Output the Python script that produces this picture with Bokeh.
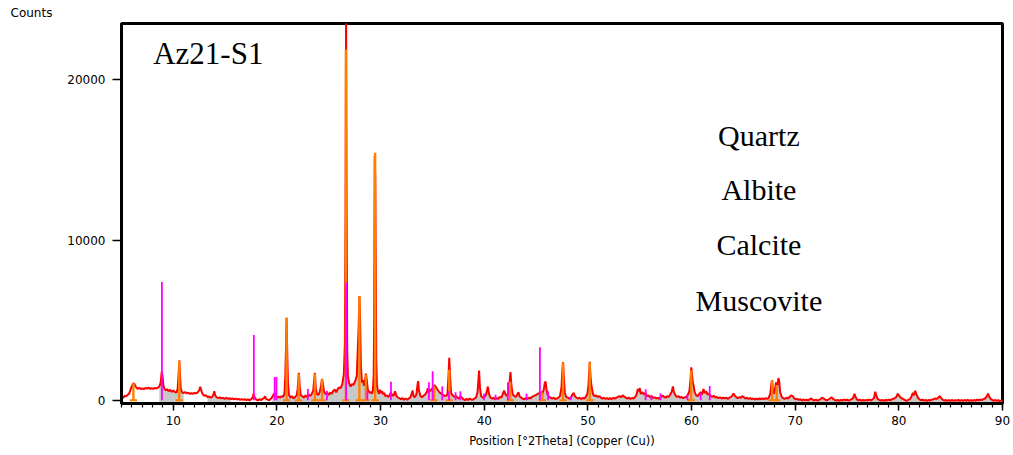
from bokeh.plotting import figure
from bokeh.models import Range1d, FixedTicker, Title
from bokeh.core.properties import value
from bokeh.embed import file_html
from bokeh.resources import INLINE
import numpy as np

# ---------------- data ----------------
# observed pattern: (2Theta, counts)
obs_05_20 = [
    (5.00, 180), (5.15, 150), (5.30, 260), (5.45, 240), (5.60, 330), (5.75, 420), (5.90, 700),
    (6.05, 950), (6.15, 1050), (6.25, 1000), (6.40, 820), (6.55, 700), (6.70, 760), (6.85, 700),
    (7.00, 730), (7.15, 690), (7.30, 760), (7.45, 720), (7.60, 780), (7.75, 700), (7.90, 740),
    (8.05, 700), (8.20, 760), (8.35, 720), (8.50, 780), (8.65, 850), (8.78, 1100), (8.88, 1780),
    (8.96, 1500), (9.05, 900), (9.15, 700), (9.30, 620), (9.40, 680), (9.55, 560), (9.70, 640),
    (9.85, 520), (10.00, 600), (10.15, 500), (10.30, 480), (10.42, 700), (10.50, 1500),
    (10.57, 2480), (10.64, 1600), (10.72, 700), (10.85, 480), (11.00, 450), (11.15, 500),
    (11.30, 420), (11.45, 460), (11.60, 390), (11.75, 430), (11.90, 400), (12.05, 450),
    (12.20, 420), (12.35, 480), (12.50, 620), (12.60, 830), (12.70, 600), (12.85, 350),
    (13.00, 280), (13.15, 300), (13.30, 200), (13.45, 230), (13.60, 150), (13.75, 200),
    (13.88, 380), (13.95, 550), (14.05, 280), (14.20, 170), (14.35, 130), (14.50, 170),
    (14.65, 110), (14.80, 140), (14.95, 80), (15.10, 140), (15.25, 90), (15.40, 120),
    (15.55, 60), (15.70, 110), (15.85, 50), (16.00, 100), (16.15, 40), (16.30, 80),
    (16.45, 20), (16.60, 70), (16.75, 10), (16.90, 60), (17.05, 0), (17.20, 50), (17.35, -20),
    (17.50, 60), (17.65, 150), (17.75, 420), (17.85, 150), (18.00, 30), (18.15, -20),
    (18.30, 60), (18.45, 0), (18.60, 80), (18.75, 120), (18.85, 240), (18.95, 80),
    (19.10, 30), (19.25, -10), (19.40, 80), (19.55, 200), (19.70, 380), (19.80, 460),
    (19.90, 300), (20.00, 150), (20.15, 220), (20.30, 160), (20.45, 250),
]
obs_20_36 = [
    (20.60, 200), (20.72, 400), (20.80, 1400), (20.87, 3200), (20.93, 5150), (20.99, 3000),
    (21.06, 1100), (21.15, 350), (21.30, 150), (21.45, 250), (21.60, 100), (21.75, 200),
    (21.90, 300), (22.00, 700), (22.05, 1200), (22.12, 1700), (22.20, 800), (22.30, 300),
    (22.45, 250), (22.60, 150), (22.75, 300), (22.90, 200), (23.05, 350), (23.20, 250),
    (23.35, 380), (23.50, 600), (23.58, 1200), (23.66, 1700), (23.74, 800), (23.85, 380),
    (24.00, 330), (24.12, 500), (24.25, 900), (24.35, 1320), (24.45, 950), (24.55, 500),
    (24.70, 380), (24.85, 450), (25.00, 330), (25.15, 480), (25.30, 400), (25.45, 600),
    (25.60, 650), (25.72, 480), (25.85, 680), (26.00, 800), (26.15, 750), (26.30, 1000),
    (26.45, 1600), (26.55, 3500), (26.62, 12000), (26.67, 24500), (26.72, 12000),
    (26.78, 3000), (26.85, 1500), (26.95, 1100), (27.10, 850), (27.25, 1000), (27.40, 950),
    (27.55, 1200), (27.70, 1500), (27.80, 3200), (27.88, 4500), (27.95, 6500), (28.02, 5000),
    (28.10, 2100), (28.20, 1100), (28.30, 1250), (28.40, 900), (28.50, 1200), (28.58, 1650),
    (28.66, 1300), (28.75, 700), (28.85, 550), (28.95, 450), (29.05, 520), (29.15, 400),
    (29.25, 600), (29.33, 1500), (29.38, 5000), (29.43, 15250), (29.48, 14000),
    (29.53, 8800), (29.58, 2500), (29.65, 900), (29.75, 550), (29.85, 400), (29.95, 650),
    (30.05, 450), (30.15, 550), (30.25, 380), (30.35, 450), (30.45, 250), (30.60, 300),
    (30.75, 200), (30.90, 350), (31.00, 500), (31.10, 300), (31.25, 280), (31.40, 550),
    (31.50, 300), (31.65, 180), (31.80, 120), (31.95, 60), (32.10, 120), (32.25, 30),
    (32.40, 100), (32.55, 20), (32.70, 100), (32.85, 150), (33.00, 400), (33.08, 600),
    (33.18, 250), (33.30, 180), (33.45, 350), (33.55, 900), (33.62, 1190), (33.70, 600),
    (33.85, 250), (34.00, 180), (34.15, 280), (34.30, 350), (34.45, 500), (34.55, 750),
    (34.65, 500), (34.80, 600), (34.95, 700), (35.10, 850), (35.20, 950), (35.30, 850),
    (35.45, 700), (35.60, 550), (35.75, 450), (35.90, 380),
]
obs_36_51 = [
    (36.05, 330), (36.20, 250), (36.35, 280), (36.45, 400), (36.55, 1500), (36.62, 2650),
    (36.70, 1500), (36.80, 450), (36.95, 300), (37.10, 200), (37.25, 280), (37.40, 150),
    (37.55, 100), (37.70, 250), (37.85, 150), (38.00, 50), (38.15, 0), (38.30, 80),
    (38.45, 10), (38.60, 100), (38.75, 40), (38.90, 30), (39.05, 100), (39.20, 150),
    (39.35, 500), (39.43, 1200), (39.50, 1850), (39.58, 800), (39.70, 250), (39.85, 150),
    (40.00, 200), (40.15, 300), (40.28, 650), (40.35, 850), (40.45, 400), (40.60, 150),
    (40.75, 100), (40.90, 150), (41.05, 60), (41.20, 120), (41.35, 80), (41.50, 200),
    (41.65, 150), (41.80, 400), (41.92, 600), (42.05, 350), (42.20, 250), (42.35, 600),
    (42.45, 1200), (42.53, 1750), (42.62, 900), (42.75, 350), (42.90, 250), (43.05, 200),
    (43.20, 380), (43.30, 500), (43.40, 250), (43.55, 150), (43.70, 100), (43.85, 50),
    (44.00, 130), (44.15, 70), (44.30, 150), (44.45, 100), (44.60, 200), (44.75, 250),
    (44.90, 300), (45.05, 350), (45.20, 400), (45.35, 450), (45.50, 500), (45.62, 400),
    (45.75, 700), (45.85, 1100), (45.92, 1150), (46.00, 700), (46.10, 350), (46.25, 200),
    (46.40, 150), (46.55, 100), (46.70, 150), (46.85, 70), (47.00, 100), (47.15, 150),
    (47.30, 250), (47.45, 800), (47.53, 1800), (47.60, 2380), (47.68, 1400), (47.78, 450),
    (47.90, 200), (48.05, 150), (48.20, 100), (48.35, 150), (48.50, 350), (48.62, 450),
    (48.75, 250), (48.90, 150), (49.05, 100), (49.20, 150), (49.35, 70), (49.50, 130),
    (49.65, 100), (49.80, 200), (49.95, 400), (50.05, 900), (50.12, 1700), (50.18, 2400),
    (50.25, 1500), (50.32, 1000), (50.40, 700), (50.50, 350), (50.65, 250), (50.80, 300),
    (50.95, 200), (51.10, 250), (51.25, 150),
]
obs_51_69 = [
    (51.40, 100), (51.55, 150), (51.70, 80), (51.85, 130), (52.00, 60), (52.15, 120),
    (52.30, 70), (52.45, 150), (52.60, 90), (52.75, 160), (52.90, 200), (53.05, 250),
    (53.20, 180), (53.35, 300), (53.50, 220), (53.65, 150), (53.80, 100), (53.95, 160),
    (54.10, 80), (54.25, 130), (54.40, 100), (54.55, 200), (54.70, 350), (54.82, 700),
    (54.90, 550), (55.00, 750), (55.10, 400), (55.25, 500), (55.40, 350), (55.55, 450),
    (55.70, 250), (55.85, 300), (56.00, 180), (56.15, 250), (56.30, 120), (56.45, 180),
    (56.60, 100), (56.75, 150), (56.90, 80), (57.05, 200), (57.20, 300), (57.35, 200),
    (57.50, 150), (57.65, 250), (57.80, 200), (57.95, 350), (58.10, 550), (58.20, 850),
    (58.30, 500), (58.45, 300), (58.60, 200), (58.75, 250), (58.90, 150), (59.05, 200),
    (59.20, 120), (59.35, 180), (59.50, 200), (59.65, 350), (59.80, 600), (59.90, 1300),
    (59.97, 2050), (60.05, 1600), (60.12, 1100), (60.20, 900), (60.30, 500), (60.45, 300),
    (60.60, 250), (60.75, 400), (60.90, 500), (61.00, 350), (61.15, 700), (61.25, 450),
    (61.40, 550), (61.55, 350), (61.70, 400), (61.85, 250), (62.00, 200), (62.15, 280),
    (62.30, 150), (62.45, 200), (62.60, 120), (62.75, 180), (62.90, 100), (63.05, 160),
    (63.20, 120), (63.35, 150), (63.50, 80), (63.65, 150), (63.80, 200), (63.95, 300),
    (64.05, 420), (64.15, 300), (64.30, 200), (64.45, 120), (64.60, 180), (64.75, 150),
    (64.90, 250), (65.05, 180), (65.20, 100), (65.35, 150), (65.50, 70), (65.65, 130),
    (65.80, 60), (65.95, 100), (66.10, 40), (66.25, 90), (66.40, 50), (66.55, 110),
    (66.70, 60), (66.85, 100), (67.00, 70), (67.15, 120), (67.30, 80), (67.45, 150),
    (67.60, 400), (67.70, 1000), (67.77, 1250), (67.85, 600), (67.95, 400), (68.05, 700),
    (68.15, 1100), (68.22, 900), (68.30, 1000), (68.38, 1380), (68.45, 1200), (68.55, 500),
    (68.70, 200), (68.85, 120), (69.00, 80),
]
obs_69_90 = [
    (69.15, 150), (69.30, 100), (69.45, 200), (69.60, 300), (69.75, 250), (69.90, 120),
    (70.05, 50), (70.20, 80), (70.35, 10), (70.50, 60), (70.65, -20), (70.80, 40),
    (70.95, -10), (71.10, 30), (71.25, -30), (71.40, 60), (71.55, 100), (71.70, 20),
    (71.85, -20), (72.00, 30), (72.15, -30), (72.30, 20), (72.45, 70), (72.60, 150),
    (72.75, 100), (72.90, 30), (73.05, -20), (73.20, 40), (73.35, 100), (73.50, 180),
    (73.65, 80), (73.80, 20), (73.95, -30), (74.10, 20), (74.25, -40), (74.40, 10),
    (74.55, -20), (74.70, 40), (74.85, -10), (75.00, 30), (75.15, -30), (75.30, 20),
    (75.45, 60), (75.60, 150), (75.72, 400), (75.82, 200), (75.95, 50), (76.10, -20),
    (76.25, 30), (76.40, -40), (76.55, 10), (76.70, -30), (76.85, 20), (77.00, -20),
    (77.15, 30), (77.30, -10), (77.45, 50), (77.60, 120), (77.72, 520), (77.82, 300),
    (77.95, 80), (78.10, 20), (78.25, -30), (78.40, 10), (78.55, -40), (78.70, 20),
    (78.85, -20), (79.00, 30), (79.15, -10), (79.30, 40), (79.45, 80), (79.60, 120),
    (79.75, 200), (79.90, 400), (80.00, 300), (80.15, 180), (80.30, 100), (80.45, 60),
    (80.60, 0), (80.75, -40), (80.90, 20), (81.05, 50), (81.20, 200), (81.35, 450),
    (81.45, 300), (81.58, 580), (81.70, 350), (81.85, 150), (82.00, 40), (82.15, -20),
    (82.30, 30), (82.45, -30), (82.60, 20), (82.75, -40), (82.90, 10), (83.05, -20),
    (83.20, 30), (83.35, 60), (83.50, 100), (83.65, 80), (83.80, 150), (83.95, 260),
    (84.10, 100), (84.25, 20), (84.40, -30), (84.55, 10), (84.70, -50), (84.85, 0),
    (85.00, -40), (85.15, 10), (85.30, -50), (85.45, 0), (85.60, -30), (85.75, 20),
    (85.90, -40), (86.05, 0), (86.20, -50), (86.35, 10), (86.50, -30), (86.65, 20),
    (86.80, -40), (86.95, 0), (87.10, -50), (87.25, 10), (87.40, -30), (87.55, 30),
    (87.70, -20), (87.85, 40), (88.00, 0), (88.15, 60), (88.30, 100), (88.45, 200),
    (88.60, 400), (88.70, 250), (88.85, 80), (89.00, 20), (89.15, -40), (89.30, 10),
    (89.45, -50), (89.60, 0), (89.75, -60), (89.90, -20), (90.00, -40),
]

# ranges of 2Theta where the grey profile shows under the pattern
grey_ranges = [(8.6, 11.0), (13.3, 15.6), (19.5, 90.0)]

# orange reference sticks (2Theta, counts)
orange_pos = [6.15, 10.57, 20.93, 22.10, 23.66, 24.35, 26.65, 27.95, 28.58, 29.47,
              35.15, 36.62, 42.50, 45.60, 47.60, 50.18, 59.97, 67.77, 68.22]
orange_h = [1050, 2450, 5150, 1650, 1650, 1300, 21900, 6500, 1600, 15450,
            900, 1900, 1150, 500, 2350, 2350, 1850, 1250, 950]

# magenta reference sticks (2Theta, counts)
magenta_pos = [8.90, 17.77, 19.78, 19.95, 22.98, 24.82, 26.67, 28.72, 31.00, 34.66,
               35.02, 35.95, 36.59, 37.23, 37.70, 39.97, 41.09, 42.28, 44.08, 45.37,
               46.17, 48.35, 55.57, 56.12, 57.00, 59.60, 60.88, 61.75]
magenta_h = [7380, 4060, 1450, 1450, 700, 580, 7350, 600, 1150, 1120,
             1810, 870, 550, 500, 560, 420, 330, 1120, 400, 3310,
             560, 250, 680, 300, 430, 340, 460, 880]

x_ticks = [10, 20, 30, 40, 50, 60, 70, 80, 90]
y_ticks = [0, 10000, 20000]
phase_names = ["Quartz", "Albite", "Calcite", "Muscovite"]
sample_name = "Az21-S1"

# ---------------- figure ----------------
X_MIN, X_MAX = 5, 90
Y_MIN, Y_MAX = -210, 23520

p = figure(output_backend="svg", toolbar_location=None,
           frame_width=881, frame_height=380,
           x_range=Range1d(X_MIN, X_MAX), y_range=Range1d(Y_MIN, Y_MAX),
           min_border_left=121, min_border_top=21, min_border_right=8, min_border_bottom=47,
           background_fill_color="white", border_fill_color="white")
p.grid.visible = False
p.outline_line_color = "black"
p.outline_line_width = 3

obs = obs_05_20 + obs_20_36 + obs_36_51 + obs_51_69 + obs_69_90
tx = np.array([a for a, b in obs], dtype=float)
cy = np.array([b for a, b in obs], dtype=float)

GREY = "#c8c8c8"
for lo, hi in grey_ranges:
    m = (tx >= lo) & (tx <= hi)
    p.varea(x=tx[m], y1=Y_MIN - 50, y2=cy[m], fill_color=GREY, fill_alpha=1.0)

p.line(tx, cy, line_color="#ff0000", line_width=2)

ORANGE = "#ff8000"
BAR = 0.35
op = np.array(orange_pos)
oh = np.array(orange_h)
p.segment(x0=op, y0=np.zeros_like(oh), x1=op, y1=oh, line_color=ORANGE, line_width=2.4)
p.segment(x0=op - BAR, y0=np.zeros_like(oh), x1=op + BAR, y1=np.zeros_like(oh),
          line_color=ORANGE, line_width=2)

mp = np.array(magenta_pos)
mh = np.array(magenta_h)
p.segment(x0=mp, y0=np.zeros_like(mh), x1=mp, y1=mh, line_color="#ff00ff", line_width=1.8)

# texts
SERIF = value("Liberation Serif")
p.text(x=[8.06], y=[21630], text=[sample_name], text_font=SERIF, text_font_size="31px",
       text_baseline="middle", text_align="left", text_color="black")
p.text(x=[66.50] * 4, y=[16500, 13130, 9700, 6200], text=phase_names, text_font=SERIF,
       text_font_size="30px", text_baseline="middle", text_align="center", text_color="black")

p.add_layout(Title(text="Counts", align="left", offset=-111, standoff=7,
                   text_font="DejaVu Sans", text_font_size="12px",
                   text_font_style="normal", text_color="black"), "above")

# axes
TICK_FONT = "DejaVu Sans"
p.xaxis.ticker = FixedTicker(ticks=x_ticks, minor_ticks=list(range(5, 91)))
p.yaxis.ticker = FixedTicker(ticks=y_ticks, minor_ticks=[])
for ax in (p.xaxis, p.yaxis):
    ax.axis_line_color = "black"
    ax.axis_line_width = 3
    ax.major_tick_line_color = "black"
    ax.major_tick_line_width = 1.5
    ax.major_tick_in = 0
    ax.major_label_text_font = TICK_FONT
    ax.major_label_text_font_size = "12px"
    ax.major_label_text_color = "black"
p.yaxis.major_tick_out = 9
p.yaxis.minor_tick_line_color = None
p.yaxis.major_label_standoff = 7
p.xaxis.major_tick_out = 7
p.xaxis.minor_tick_out = 4
p.xaxis.minor_tick_in = 0
p.xaxis.minor_tick_line_color = "black"
p.xaxis.minor_tick_line_width = 1.2
p.xaxis.major_label_standoff = 5
p.xaxis.axis_label = "Position [°2Theta] (Copper (Cu))"
p.xaxis.axis_label_text_font = TICK_FONT
p.xaxis.axis_label_text_font_size = "11.5px"
p.xaxis.axis_label_text_font_style = "normal"
p.xaxis.axis_label_text_color = "black"
p.xaxis.axis_label_standoff = 6

open("out.html", "w").write(file_html(p, INLINE))
